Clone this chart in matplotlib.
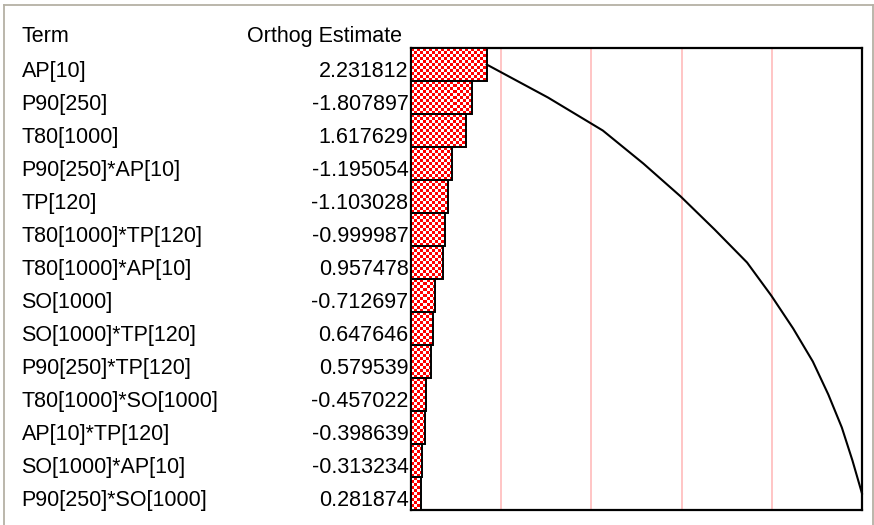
import numpy as np
import matplotlib
matplotlib.use('Agg')
import matplotlib.pyplot as plt
from matplotlib.lines import Line2D

# data
terms = ['AP[10]', 'P90[250]', 'T80[1000]', 'P90[250]*AP[10]', 'TP[120]',
         'T80[1000]*TP[120]', 'T80[1000]*AP[10]', 'SO[1000]',
         'SO[1000]*TP[120]', 'P90[250]*TP[120]', 'T80[1000]*SO[1000]',
         'AP[10]*TP[120]', 'SO[1000]*AP[10]', 'P90[250]*SO[1000]']
estimates = [2.231812, -1.807897, 1.617629, -1.195054, -1.103028, -0.999987,
             0.957478, -0.712697, 0.647646, 0.579539, -0.457022, -0.398639,
             -0.313234, 0.281874]
ref_fracs = [0.2, 0.4, 0.6, 0.8]

W, H = 874, 525
DPI = 100
FONT = 'Liberation Sans'
FS = 15.5

abs_est = np.abs(estimates)
cum = np.cumsum(abs_est)
total = cum[-1]
rows = np.arange(len(terms))

fig = plt.figure(figsize=(W / DPI, H / DPI), dpi=DPI)
fig.patch.set_facecolor('white')

# outer gray frame
frame_col = '#b5b1a5'
fig.add_artist(Line2D([4 / W, 4 / W], [0, 1 - 5 / H], color=frame_col, lw=1.3))
fig.add_artist(Line2D([4 / W, 873 / W], [1 - 5 / H, 1 - 5 / H], color=frame_col, lw=1.3))
fig.add_artist(Line2D([873 / W, 873 / W], [0, 1 - 5 / H], color=frame_col, lw=1.3))

# plot box
left, right, top, bottom = 411, 862, 48, 510
ax = fig.add_axes([left / W, 1 - bottom / H, (right - left) / W, (bottom - top) / H])
ax.set_zorder(5)
ax.set_facecolor('white')
ax.set_xticks([])
ax.set_yticks([])
for sp in ax.spines.values():
    sp.set_linewidth(1.6)
    sp.set_color('black')

# reference lines
for f in ref_fracs:
    ax.axvline(f * total, color='#ffc0c0', lw=1.3, zorder=1)

# checkered bars
bars = ax.barh(rows, abs_est, height=1.0, left=0, facecolor='none',
               edgecolor='black', linewidth=1.4, zorder=4)
cell = 3
nx = int(np.ceil((right - left) / cell))
ny = int(np.ceil((bottom - top) / cell))
checker = (np.add.outer(np.arange(ny), np.arange(nx)) % 2).astype(float)
cmap = matplotlib.colors.ListedColormap(['#ff0000', '#ffffff'])
for b in bars:
    im = ax.imshow(checker, cmap=cmap, interpolation='nearest', aspect='auto',
                   extent=(0, nx * cell / (right - left) * total,
                           -0.5 + ny * cell / (bottom - top) * len(terms), -0.5),
                   zorder=3)
    im.set_clip_path(b)
ax.set_xlim(0, total)
ax.set_ylim(len(terms) - 0.5, -0.5)

# cumulative line
ax.plot(cum, rows, color='black', lw=1.5, zorder=5, clip_on=False)

# table text
fig.text(21.5 / W, 1 - 42 / H, 'Term', fontsize=FS, family=FONT, va='baseline')
fig.text(247 / W, 1 - 42 / H, 'Orthog Estimate', fontsize=FS, family=FONT, va='baseline')
row_h = (bottom - top) / len(terms)
for i, (t, e) in enumerate(zip(terms, estimates)):
    ybase = 1 - (top + (i + 0.5) * row_h + 12.8) / H
    fig.text(21.5 / W, ybase, t, fontsize=FS, family=FONT, va='baseline')
    fig.text(408.5 / W, ybase, f'{e:.6f}', fontsize=FS, family=FONT,
             va='baseline', ha='right')

fig.savefig('out.png', dpi=DPI, facecolor='white')
